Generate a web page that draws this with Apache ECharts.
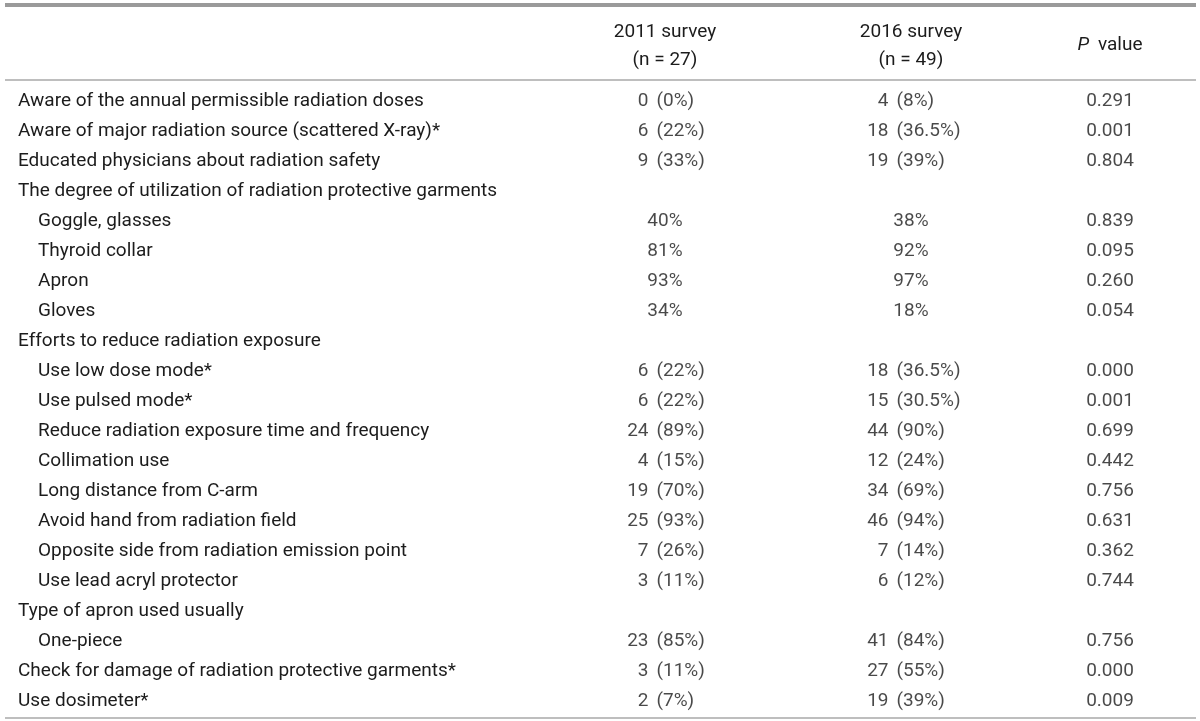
<!DOCTYPE html>
<html><head><meta charset="utf-8">
<script src="https://cdn.jsdelivr.net/npm/echarts@6/dist/echarts.min.js"></script>
<style>html,body{margin:0;padding:0;background:#fff}#c{width:1200px;height:721px}</style>
</head><body><div id="c"></div>
<script>
// ---- data ----
const rowLabels = [
  'Aware of the annual permissible radiation doses',
  'Aware of major radiation source (scattered X-ray)*',
  'Educated physicians about radiation safety',
  'The degree of utilization of radiation protective garments',
  'Goggle, glasses',
  'Thyroid collar',
  'Apron',
  'Gloves',
  'Efforts to reduce radiation exposure',
  'Use low dose mode*',
  'Use pulsed mode*',
  'Reduce radiation exposure time and frequency',
  'Collimation use',
  'Long distance from C-arm',
  'Avoid hand from radiation field',
  'Opposite side from radiation emission point',
  'Use lead acryl protector',
  'Type of apron used usually',
  'One-piece',
  'Check for damage of radiation protective garments*',
  'Use dosimeter*'
];
const indentLevel = [0,0,0,0,1,1,1,1,0,1,1,1,1,1,1,1,1,0,1,0,0];
const count2011 = [0,6,9,null,null,null,null,null,null,6,6,24,4,19,25,7,3,null,23,3,2];
const pct2011   = ['0%','22%','33%',null,'40%','81%','93%','34%',null,'22%','22%','89%','15%','70%','93%','26%','11%',null,'85%','11%','7%'];
const count2016 = [4,18,19,null,null,null,null,null,null,18,15,44,12,34,46,7,6,null,41,27,19];
const pct2016   = ['8%','36.5%','39%',null,'38%','92%','97%','18%',null,'36.5%','30.5%','90%','24%','69%','94%','14%','12%',null,'84%','55%','39%'];
const pValues   = ['0.291','0.001','0.804',null,'0.839','0.095','0.260','0.054',null,'0.000','0.001','0.699','0.442','0.756','0.631','0.362','0.744',null,'0.756','0.000','0.009'];
const header2011 = ['2011 survey', '(n = 27)'];
const header2016 = ['2016 survey', '(n = 49)'];
const headerP = ['P', 'value'];

// ---- layout / style ----
const FONT = 'Roboto';
const FS = 19;
const TXT = '#1c1c1c';
const col2011 = {center: 665, anchor: 656};
const col2016 = {center: 911, anchor: 896};
const colP = 1110;
const rowIdx = rowLabels.map((_, i) => i);

function countData(counts, anchor) {
  return rowIdx.filter(i => counts[i] !== null).map(i => ({value: [anchor, i], name: String(counts[i])}));
}
function parenData(counts, pcts, anchor) {
  return rowIdx.filter(i => counts[i] !== null).map(i => ({value: [anchor, i], name: '(' + pcts[i] + ')'}));
}
function pctOnlyData(counts, pcts, center) {
  return rowIdx.filter(i => counts[i] === null && pcts[i] !== null).map(i => ({value: [center, i], name: pcts[i]}));
}
function pData() {
  return rowIdx.filter(i => pValues[i] !== null).map(i => ({value: [colP, i], name: pValues[i]}));
}
function textSeries(data, position, distance) {
  return {
    type: 'scatter', data: data, symbolSize: 1, silent: true,
    itemStyle: {color: 'rgba(0,0,0,0)'},
    label: {show: true, position: position, distance: distance, formatter: '{b}',
            fontFamily: FONT, fontSize: FS, color: TXT}
  };
}

const chart = echarts.init(document.getElementById('c'), null, {renderer: 'canvas'});
chart.setOption({
  animation: false,
  backgroundColor: '#fff',
  grid: {left: 0, right: 0, top: 86, height: 630},
  xAxis: {type: 'value', min: 0, max: 1200, show: false},
  yAxis: {
    type: 'category', inverse: true, data: rowLabels,
    axisLine: {show: false}, axisTick: {show: false}, splitLine: {show: false},
    axisLabel: {
      inside: true, margin: 18, interval: 0,
      fontFamily: FONT, fontSize: FS, color: TXT,
      formatter: (v, i) => indentLevel[i] ? '{ind|' + v + '}' : '{n|' + v + '}',
      rich: {ind: {padding: [0, 0, 0, 20], fontFamily: FONT, fontSize: FS, color: TXT},
             n: {fontFamily: FONT, fontSize: FS, color: TXT}}
    }
  },
  graphic: [
    {type: 'line', shape: {x1: 5, y1: 5, x2: 1196, y2: 5}, style: {stroke: '#9a9a9a', lineWidth: 4}},
    {type: 'line', shape: {x1: 5, y1: 80, x2: 1196, y2: 80}, style: {stroke: '#a8a8a8', lineWidth: 1.5}},
    {type: 'line', shape: {x1: 5, y1: 718, x2: 1196, y2: 718}, style: {stroke: '#a8a8a8', lineWidth: 1.5}},
    {type: 'text', x: col2011.center, y: 32, style: {text: header2011[0], font: FS + 'px ' + FONT, fill: TXT, align: 'center', verticalAlign: 'middle'}},
    {type: 'text', x: col2011.center, y: 60, style: {text: header2011[1], font: FS + 'px ' + FONT, fill: TXT, align: 'center', verticalAlign: 'middle'}},
    {type: 'text', x: col2016.center, y: 32, style: {text: header2016[0], font: FS + 'px ' + FONT, fill: TXT, align: 'center', verticalAlign: 'middle'}},
    {type: 'text', x: col2016.center, y: 60, style: {text: header2016[1], font: FS + 'px ' + FONT, fill: TXT, align: 'center', verticalAlign: 'middle'}},
    {type: 'text', x: colP, y: 45, style: {
      text: '{it|' + headerP[0] + '} ' + headerP[1],
      font: FS + 'px ' + FONT, fill: TXT, align: 'center', verticalAlign: 'middle',
      rich: {it: {fontStyle: 'italic', fontFamily: FONT, fontSize: FS, fill: TXT, padding: [0, 4, 0, 0]}}
    }}
  ],
  series: [
    textSeries(countData(count2011, col2011.anchor), 'left', 7),
    textSeries(parenData(count2011, pct2011, col2011.anchor), 'right', 0),
    textSeries(pctOnlyData(count2011, pct2011, col2011.center), 'inside', 0),
    textSeries(countData(count2016, col2016.anchor), 'left', 7),
    textSeries(parenData(count2016, pct2016, col2016.anchor), 'right', 0),
    textSeries(pctOnlyData(count2016, pct2016, col2016.center), 'inside', 0),
    textSeries(pData(), 'inside', 0)
  ]
});
</script>
</body></html>
